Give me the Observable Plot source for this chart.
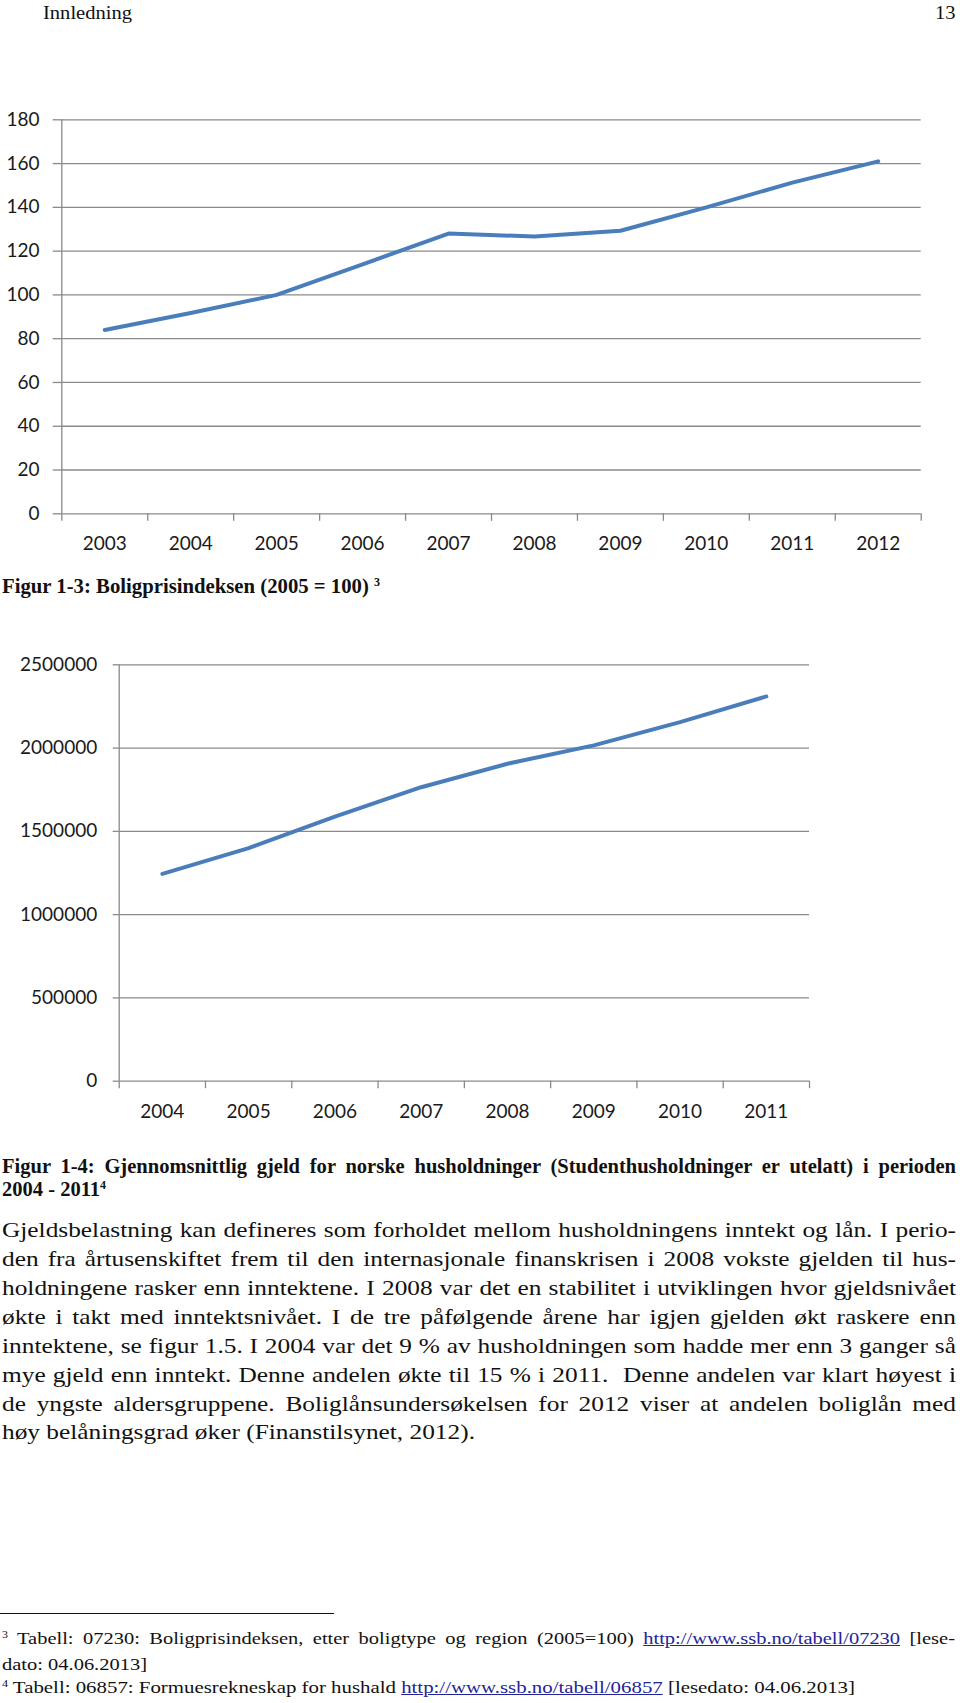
<!DOCTYPE html>
<html>
<head>
<meta charset="utf-8">
<script src="https://cdn.jsdelivr.net/npm/d3@7"></script>
<script src="https://cdn.jsdelivr.net/npm/@observablehq/plot@0.6"></script>
<style>
  html, body { margin: 0; padding: 0; background: #fff; }
  #page { position: relative; width: 960px; height: 1703px; overflow: hidden; background: #fff; }
  .ln { position: absolute; white-space: pre; line-height: 1; font-family: "Liberation Serif", "Times New Roman", serif; color: #111; transform-origin: 0 0; }
  .sup { position: relative; font-size: 0.58em; top: -0.62em; }
  .lnk { color: #23239a; text-decoration: underline; }
  .chart { position: absolute; left: 0; }
</style>
</head>
<body>
<div id="page"></div>
<script>
// ---------- data ----------
const years1 = [2003, 2004, 2005, 2006, 2007, 2008, 2009, 2010, 2011, 2012];
const index1 = [84, 91.7, 100, 114, 128, 126.7, 129.3, 140, 151.3, 161];
const yTicks1 = [0, 20, 40, 60, 80, 100, 120, 140, 160, 180];

const years2 = [2004, 2005, 2006, 2007, 2008, 2009, 2010, 2011];
const debt2 = [1245000, 1399000, 1589000, 1765000, 1906000, 2016000, 2156000, 2310000];
const yTicks2 = [0, 500000, 1000000, 1500000, 2000000, 2500000];

const GRID = "#8a8a8a";
const BLUE = "#4a7ebb";
const page = document.getElementById("page");

function bounds(years) {
  return years.map(y => y - 0.5).concat([years[years.length - 1] + 0.5]);
}

function chart(years, values, yTicks, opt) {
  const b = bounds(years);
  const data = years.map((y, i) => ({year: y, value: values[i]}));
  const p = Plot.plot({
    width: 960, height: opt.height,
    marginLeft: opt.ml, marginRight: opt.mr, marginTop: opt.mt, marginBottom: opt.mb,
    style: {fontFamily: "Lato, 'Open Sans', sans-serif", fontSize: "19px", color: "#1a1a1a", background: "transparent", overflow: "visible"},
    x: {domain: [b[0], b[b.length - 1]]},
    y: {domain: [yTicks[0], yTicks[yTicks.length - 1]]},
    marks: [
      Plot.ruleY(yTicks, {stroke: GRID, strokeWidth: 1.3}),
      Plot.axisY({ticks: yTicks, tickSize: opt.tsY, tickPadding: opt.tpY, stroke: GRID, strokeWidth: 1.3, strokeOpacity: 1, tickFormat: d3.format("d"), label: null}),
      Plot.ruleX([b[0]], {stroke: GRID, strokeWidth: 1.3}),
      Plot.axisX({ticks: b, tickSize: 7.5, tickFormat: () => "", stroke: GRID, strokeWidth: 1.3, strokeOpacity: 1, label: null}),
      Plot.axisX({ticks: years, tickSize: 0, tickPadding: 23, tickFormat: d => String(d), label: null}),
      Plot.line(data, {x: "year", y: "value", stroke: BLUE, strokeWidth: 4, strokeLinejoin: "round", strokeLinecap: "round"})
    ]
  });
  p.classList.add("chart");
  p.style.top = opt.top + "px";
  page.appendChild(p);
}

chart(years1, index1, yTicks1, {top: 90, height: 480, ml: 61.3, mr: 39.3, mt: 29.3, mb: 56.7, tsY: 8.6, tpY: 13.7});
chart(years2, debt2, yTicks2, {top: 620, height: 520, ml: 118.7, mr: 151, mt: 44.3, mb: 59.3, tsY: 6, tpY: 16});

// ---------- text ----------
function line(parts, o) {
  const d = document.createElement("div");
  d.className = "ln";
  d.style.fontSize = o.fs + "px";
  if (o.bold) d.style.fontWeight = "bold";
  d.style.top = (o.base - 0.8375 * o.fs) + "px";
  d.style.left = o.x0 + "px";
  for (const p of parts) {
    const s = document.createElement("span");
    s.textContent = p.t;
    if (p.sup) s.className = "sup";
    if (p.link) s.className = "lnk";
    d.appendChild(s);
  }
  page.appendChild(d);
  const w = d.getBoundingClientRect().width;
  let s = o.s || 1;
  if (o.mode === "fit") {
    s = (o.x1 - o.x0) / w;
  } else if (o.mode === "justify") {
    const txt = parts.map(p => p.t).join("");
    const nsp = (txt.match(/ /g) || []).length;
    const target = (o.x1 - o.x0) / s;
    if (nsp > 0) d.style.wordSpacing = ((target - w) / nsp) + "px";
  } else if (o.mode === "right") {
    d.style.left = (o.x1 - w * s) + "px";
  }
  d.style.transform = "scaleX(" + s + ")";
  return s;
}

// header
const sh = line([{t: "Innledning"}], {x0: 43, x1: 132, base: 19, fs: 19, mode: "fit"});
line([{t: "13"}], {x1: 956, base: 19, fs: 19, mode: "right", s: sh, x0: 0});

// caption 1-3
line([{t: "Figur 1-3: Boligprisindeksen (2005 = 100) "}, {t: "3", sup: true}], {x0: 2, x1: 380, base: 593, fs: 20, bold: true, mode: "fit"});

// caption 1-4
const sc = line([{t: "2004 - 2011"}, {t: "4", sup: true}], {x0: 2, x1: 106, base: 1196, fs: 20, bold: true, mode: "fit"});
line([{t: "Figur 1-4: Gjennomsnittlig gjeld for norske husholdninger (Studenthusholdninger er utelatt) i perioden"}],
  {x0: 2, x1: 956, base: 1172.7, fs: 20, bold: true, mode: "justify", s: sc});

// body
const bodyLines = [
  "Gjeldsbelastning kan defineres som forholdet mellom husholdningens inntekt og lån. I perio-",
  "den fra årtusenskiftet frem til den internasjonale finanskrisen i 2008 vokste gjelden til hus-",
  "holdningene rasker enn inntektene. I 2008 var det en stabilitet i utviklingen hvor gjeldsnivået",
  "økte i takt med inntektsnivået. I de tre påfølgende årene har igjen gjelden økt raskere enn",
  "inntektene, se figur 1.5. I 2004 var det 9 % av husholdningen som hadde mer enn 3 ganger så",
  "mye gjeld enn inntekt. Denne andelen økte til 15 % i 2011.  Denne andelen var klart høyest i",
  "de yngste aldersgruppene. Boliglånsundersøkelsen for 2012 viser at andelen boliglån med"
];
const bodyLast = "høy belåningsgrad øker (Finanstilsynet, 2012).";
const bodyBase = [1238.3, 1267, 1296, 1325, 1354, 1382.7, 1411.7];
const sb = line([{t: bodyLast}], {x0: 2, x1: 475, base: 1440.5, fs: 21.5, mode: "fit"});
bodyLines.forEach((t, i) => line([{t}], {x0: 2, x1: 956, base: bodyBase[i], fs: 21.5, mode: "justify", s: sb}));

// footnote rule
const rule = document.createElement("div");
rule.style.cssText = "position:absolute;left:0;top:1612.6px;width:334px;height:1.6px;background:#111;";
page.appendChild(rule);

// footnotes
const sf = line([{t: "dato: 04.06.2013]"}], {x0: 2, x1: 147, base: 1670, fs: 17, mode: "fit"});
line([{t: "3", sup: true}, {t: " Tabell: 07230: Boligprisindeksen, etter boligtype og region (2005=100) "},
      {t: "http://www.ssb.no/tabell/07230", link: true}, {t: " [lese-"}],
  {x0: 2, x1: 955, base: 1644, fs: 17, mode: "justify", s: sf});
line([{t: "4", sup: true}, {t: " Tabell: 06857: Formuesrekneskap for hushald "},
      {t: "http://www.ssb.no/tabell/06857", link: true}, {t: " [lesedato: 04.06.2013]"}],
  {x0: 2, x1: 855, base: 1693, fs: 17, mode: "fit"});
</script>
</body>
</html>
